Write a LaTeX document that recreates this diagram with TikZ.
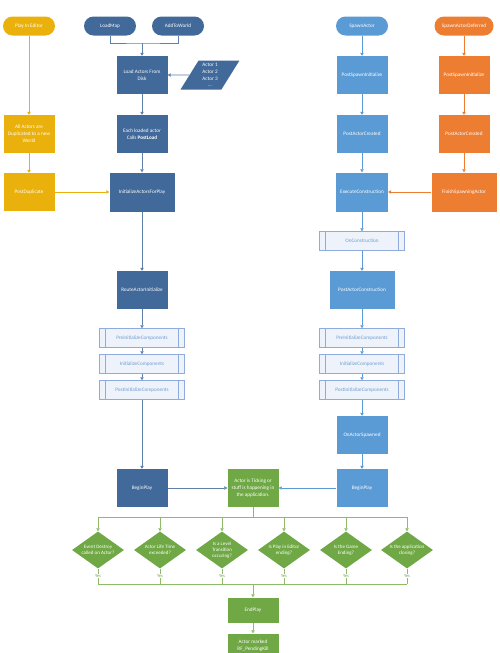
\documentclass[tikz,border=0pt]{standalone}
\usepackage{fontspec}
\setmainfont{Carlito}
\usetikzlibrary{shapes.geometric,arrows.meta}
\definecolor{darkblue}{HTML}{41699A}
\definecolor{lightblue}{HTML}{5B9BD5}
\definecolor{orangefill}{HTML}{ED7D31}
\definecolor{gold}{HTML}{EAB00B}
\definecolor{greenfill}{HTML}{6FA844}
\definecolor{greenline}{HTML}{8DBB6A}
\definecolor{subfill}{HTML}{EEF3FB}
\definecolor{subline}{HTML}{8FAADC}
\definecolor{subtext}{HTML}{6F9BD0}
\definecolor{yestext}{HTML}{7FA060}
\begin{document}
\begin{tikzpicture}[x=1pt,y=-1pt,
  every node/.style={font=\fontsize{5.2}{6.8}\selectfont, align=center, inner sep=1pt},
  box/.style={rectangle, minimum width=51pt, minimum height=38pt, text=white},
  pill/.style={rectangle, rounded corners=9.5pt, minimum width=52pt, minimum height=19pt, text=white},
  darkbox/.style={box, fill=darkblue},
  lightbox/.style={box, fill=lightblue},
  orangebox/.style={box, fill=orangefill},
  goldbox/.style={box, fill=gold},
  greenbox/.style={box, fill=greenfill},
  subbox/.style={rectangle, draw=subline, fill=subfill, text=subtext, line width=0.5pt,
    minimum width=85pt, minimum height=19pt,
    path picture={
      \draw[subline] ([xshift=6pt]path picture bounding box.north west) -- ([xshift=6pt]path picture bounding box.south west);
      \draw[subline] ([xshift=-6pt]path picture bounding box.north east) -- ([xshift=-6pt]path picture bounding box.south east);}},
  listbox/.style={trapezium, trapezium left angle=63, trapezium right angle=117, trapezium stretches=true,
    minimum width=59pt, minimum height=29pt, inner sep=0pt, fill=darkblue, text=white},
  decision/.style={diamond, minimum width=52pt, minimum height=37pt, inner sep=0pt, fill=greenfill},
  dtext/.style={text=white, inner sep=0pt, font=\fontsize{5}{6.2}\selectfont},
  yes/.style={fill=white, text=yestext, font=\fontsize{4.6}{5}\selectfont, inner sep=0.6pt},
  tip/.style={-{Triangle[width=3.4pt,length=3pt]}},
  darkline/.style={draw=darkblue!85, line width=0.6pt},
  lightline/.style={draw=lightblue, line width=0.6pt},
  orangeline/.style={draw=orangefill, line width=0.6pt},
  goldline/.style={draw=gold, line width=0.6pt},
  greenlink/.style={draw=greenline, line width=0.6pt}]
  \useasboundingbox (0,0) rectangle (500,653);

  % start points
  \node[pill, fill=gold] (pie) at (29,26) {Play In Editor};
  \node[pill, fill=darkblue] (loadmap) at (110,26) {LoadMap};
  \node[pill, fill=darkblue] (addworld) at (178,26) {AddToWorld};
  \node[pill, fill=lightblue] (spawn) at (362,26) {SpawnActor};
  \node[pill, fill=orangefill, minimum width=59pt] (deferred) at (464,26) {SpawnActorDeferred};

  % load from disk
  \node[darkbox] (load) at (142,75) {Load Actors From\\Disk};
  \node[listbox] (actors) at (210,75) {Actor 1\\Actor 2\\Actor 3\\...};
  \node[darkbox] (postload) at (142,134) {Each loaded actor\\Calls \textbf{PostLoad}};
  \node[darkbox, minimum width=65pt, minimum height=39pt] (initplay) at (142,192) {InitializeActorsForPlay};
  \node[darkbox] (route) at (142,290) {RouteActorInitialize};
  \node[subbox] (preL) at (142,338) {PreInitializeComponents};
  \node[subbox] (initL) at (142,364) {InitializeComponents};
  \node[subbox] (postL) at (142,390) {PostInitializeComponents};
  \node[darkbox] (beginL) at (142,488) {BeginPlay};

  % play in editor
  \node[goldbox] (dup) at (29,134) {All Actors are\\Duplicated to a new\\World};
  \node[goldbox] (postdup) at (29,192) {PostDuplicate};

  % spawn actor
  \node[lightbox] (psi) at (362,75) {PostSpawnInitialize};
  \node[lightbox] (pac) at (362,134) {PostActorCreated};
  \node[lightbox, minimum width=52pt, minimum height=39pt] (exec) at (362,192) {ExecuteConstruction};
  \node[subbox] (oncons) at (362,241) {OnConstruction};
  \node[lightbox, minimum width=65pt] (pacons) at (362,290) {PostActorConstruction};
  \node[subbox] (preR) at (362,338) {PreInitializeComponents};
  \node[subbox] (initR) at (362,364) {InitializeComponents};
  \node[subbox] (postR) at (362,390) {PostInitializeComponents};
  \node[lightbox] (spawned) at (362,435) {OnActorSpawned};
  \node[lightbox] (beginR) at (362,488) {BeginPlay};

  % spawn actor deferred
  \node[orangebox] (psiO) at (464,75) {PostSpawnInitialize};
  \node[orangebox] (pacO) at (464,134) {PostActorCreated};
  \node[orangebox, minimum width=65pt, minimum height=39pt] (finish) at (464,192) {FinishSpawningActor};

  % ticking and end
  \node[greenbox] (tick) at (253,488) {Actor is Ticking or\\stuff is happening in\\the application.};
  \node[decision, label={[dtext]center:{Event Destroy\\called on Actor?}}] (d1) at (98,550) {};
  \node[decision, label={[dtext]center:{Actor Life Time\\exceeded?}}] (d2) at (160,550) {};
  \node[decision, label={[dtext]center:{Is a Level\\Transition\\occuring?}}] (d3) at (222,550) {};
  \node[decision, label={[dtext]center:{Is Play in Editor\\ending?}}] (d4) at (284,550) {};
  \node[decision, label={[dtext]center:{Is the Game\\Ending?}}] (d5) at (346,550) {};
  \node[decision, label={[dtext]center:{Is the application\\closing?}}] (d6) at (407,550) {};
  \node[greenbox, minimum height=25pt] (endplay) at (253,610) {EndPlay};
  \node[greenbox, minimum height=25pt] (marked) at (253,646) {Actor marked\\RF\_PendingKill};

  \coordinate (joinL) at (142,43);
  \coordinate (bus) at (253,517);
  \coordinate (collect) at (253,584);

  % connectors
  \draw[darkline] (loadmap.south) |- (joinL) -| (addworld.south);
  \draw[darkline, tip] (joinL) -- (load);
  \draw[darkline, tip] (actors) -- (load);
  \foreach \a/\b in {load/postload, postload/initplay, initplay/route, route/preL, preL/initL, initL/postL, postL/beginL, beginL/tick}
    \draw[darkline, tip] (\a) -- (\b);
  \foreach \a/\b in {pie/dup, dup/postdup, postdup/initplay}
    \draw[goldline, tip] (\a) -- (\b);
  \foreach \a/\b in {spawn/psi, psi/pac, pac/exec, exec/oncons, oncons/pacons, pacons/preR, preR/initR, initR/postR, postR/spawned, spawned/beginR, beginR/tick}
    \draw[lightline, tip] (\a) -- (\b);
  \foreach \a/\b in {deferred/psiO, psiO/pacO, pacO/finish, finish/exec}
    \draw[orangeline, tip] (\a) -- (\b);

  \draw[greenlink] (tick) -- (bus);
  \draw[greenlink] (d1|-bus) -- (d6|-bus);
  \draw[greenlink] (d1|-collect) -- (d6|-collect);
  \foreach \i in {1,...,6} {
    \draw[greenlink, tip] (d\i|-bus) -- (d\i.north);
    \draw[greenlink] (d\i.south) -- (d\i|-collect) node[yes, pos=0.47] (yes\i) {Yes};
  }
  \draw[greenlink, tip] (collect) -- (endplay);
  \draw[greenlink, tip] (endplay) -- (marked);
\end{tikzpicture}
\end{document}
